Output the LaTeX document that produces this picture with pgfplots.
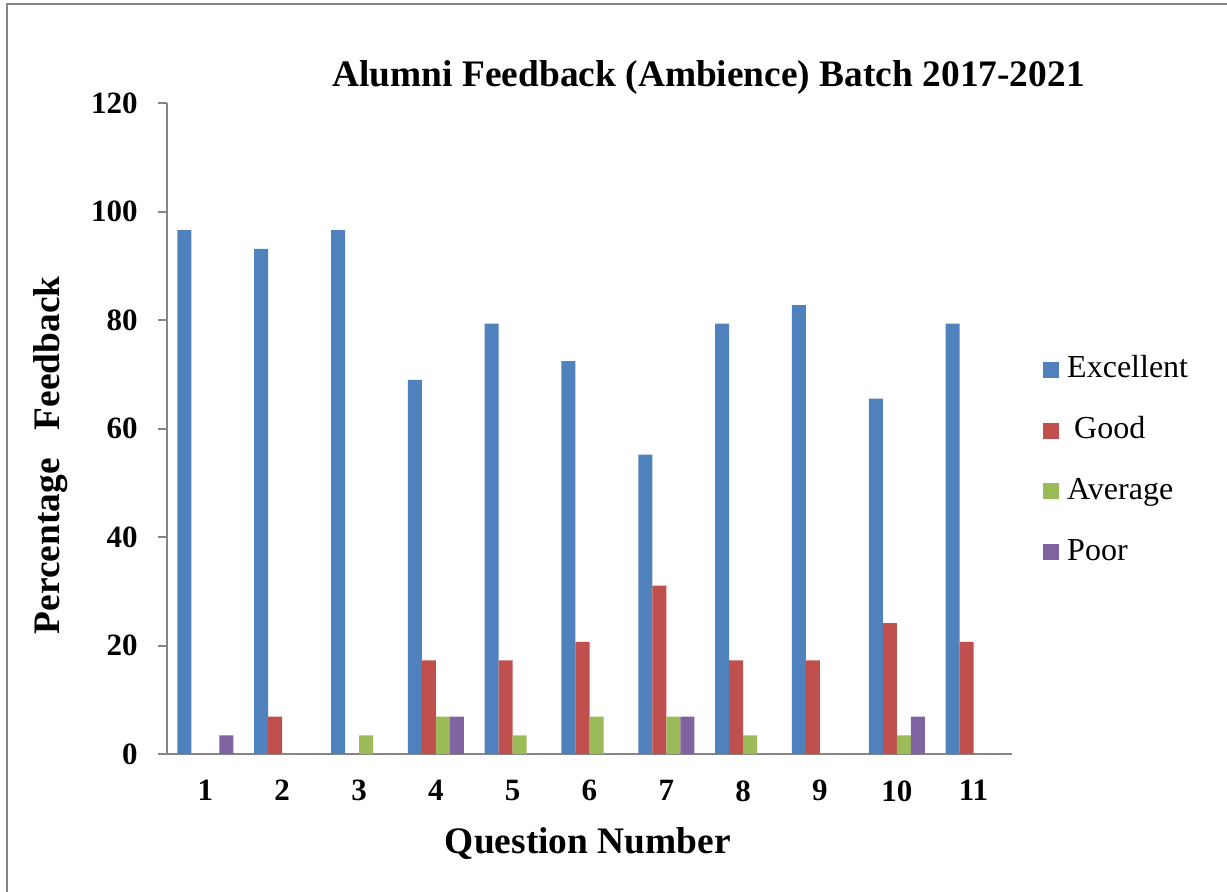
\documentclass[border=0pt]{standalone}
\usepackage{pgfplots}
\usepackage{pgfplotstable}
\pgfplotsset{compat=1.18}
\usepackage{fontspec}
\setmainfont{Liberation Serif}
\definecolor{cEx}{HTML}{4F81BD}
\definecolor{cGo}{HTML}{C0504D}
\definecolor{cAv}{HTML}{9BBB59}
\definecolor{cPo}{HTML}{8064A2}
\definecolor{axgray}{HTML}{868686}
\pgfplotstableread{
q ex go av po
1 96.55 0 0 3.45
2 93.10 6.90 0 0
3 96.55 0 3.45 0
4 68.97 17.24 6.90 6.90
5 79.31 17.24 3.45 0
6 72.41 20.69 6.90 0
7 55.17 31.03 6.90 6.90
8 79.31 17.24 3.45 0
9 82.76 17.24 0 0
10 65.52 24.14 3.45 6.90
11 79.31 20.69 0 0
}\data
\begin{document}
\begin{tikzpicture}
\useasboundingbox (-83.5pt,-68.5pt) rectangle (530pt,377pt);
\draw[axgray, line width=1pt] (-80pt,-70pt) -- (-80pt,375pt) -- (531pt,375pt);
\begin{axis}[
 at={(0,0)}, anchor=south west, scale only axis,
 width=422.5pt, height=325.5pt,
 xmin=0.5, xmax=11.5, ymin=0, ymax=120,
 ybar=0pt, bar width=7pt,
 axis x line*=bottom, axis y line*=left,
 axis line style={axgray, line width=1pt, -},
 xtick={1,...,11}, ytick={0,20,...,120},
 x tick style={draw=none}, y tick style={axgray, line width=1pt},
 tick align=outside, major tick length=4.5pt,
 /pgf/number format/assume math mode=true,
 ticklabel style={font=\bfseries\fontsize{15.5}{18}\selectfont, inner sep=0pt},
 xticklabel style={anchor=north, yshift=-8.5pt},
 yticklabel style={anchor=east, xshift=-10pt},
 title={Alumni Feedback (Ambience) Batch 2017-2021},
 title style={font=\bfseries\fontsize{18.7}{22}\selectfont, at={(0.641,1.020)}, anchor=center, inner sep=0pt},
 xlabel={Question Number},
 xlabel style={font=\bfseries\fontsize{18.7}{22}\selectfont, at={(0.498,-0.137)}, anchor=center, inner sep=0pt},
 ylabel={Percentage\hspace{0.75em}Feedback},
 ylabel style={font=\bfseries\fontsize{18.7}{22}\selectfont, at={(-0.138,0.459)}, anchor=center, inner sep=0pt},
 legend style={draw=none, fill=none, at={(1.0365,0.4502)}, anchor=west, inner sep=0pt,
   font=\fontsize{16}{19}\selectfont, row sep=14.4pt, column sep=4pt,
   nodes={inner sep=0pt, text height=12pt, text depth=4pt}},
 legend cell align=left,
 legend image code/.code={\fill[#1] (0pt,-4pt) rectangle (8pt,4pt);},
]
\addplot[draw=none, fill=cEx] table[x=q, y=ex] {\data};
\addplot[draw=none, fill=cGo] table[x=q, y=go] {\data};
\addplot[draw=none, fill=cAv] table[x=q, y=av] {\data};
\addplot[draw=none, fill=cPo] table[x=q, y=po] {\data};
\legend{Excellent, \hspace{3.5pt}Good, Average, Poor}
\end{axis}
\end{tikzpicture}
\end{document}
